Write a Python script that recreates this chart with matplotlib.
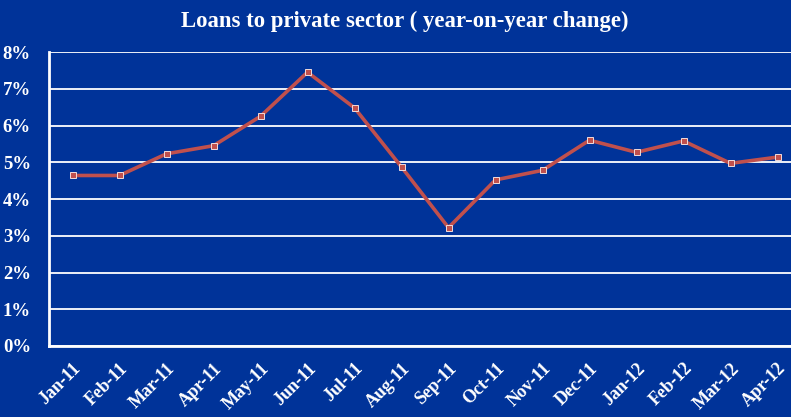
import matplotlib
matplotlib.use("Agg")
import matplotlib.pyplot as plt
from matplotlib.ticker import FuncFormatter

months = ["Jan-11", "Feb-11", "Mar-11", "Apr-11", "May-11", "Jun-11", "Jul-11", "Aug-11",
          "Sep-11", "Oct-11", "Nov-11", "Dec-11", "Jan-12", "Feb-12", "Mar-12", "Apr-12"]
loan_growth = [4.64, 4.64, 5.23, 5.45, 6.25, 7.45, 6.48, 4.87,
               3.22, 4.52, 4.78, 5.60, 5.27, 5.58, 4.97, 5.14]
y_ticks = [0, 1, 2, 3, 4, 5, 6, 7, 8]

bg = "#003399"
line_color = "#C0504D"

plt.rcParams["font.family"] = ["Liberation Serif", "DejaVu Serif"]

fig = plt.figure(figsize=(7.91, 4.17), dpi=100, facecolor=bg)
ax = fig.add_axes([49 / 791, 71 / 417, 752 / 791, 294 / 417])
ax.set_facecolor(bg)

x = list(range(len(months)))
ax.plot(x, loan_growth, color=line_color, linewidth=2.6, marker="s", markersize=4,
        markerfacecolor=line_color, markeredgecolor="#F2DCDB", markeredgewidth=0.7,
        zorder=3)

ax.set_xlim(-0.5, len(months) - 0.5)
ax.set_ylim(0, 8)
ax.set_yticks(y_ticks)
ax.yaxis.set_major_formatter(FuncFormatter(lambda v, _: f"{v:.0f}%"))
ax.grid(axis="y", color="white", linewidth=1.3, zorder=1)
ax.set_xticks(x)
ax.set_xticklabels(months, rotation=45, ha="right", rotation_mode="anchor")

for side in ("top", "right"):
    ax.spines[side].set_visible(False)
for side in ("left", "bottom"):
    ax.spines[side].set_color("white")
    ax.spines[side].set_linewidth(2)

ax.tick_params(axis="both", length=0, colors="white")
ax.tick_params(axis="y", pad=13, labelsize=13.5)
ax.tick_params(axis="x", pad=10, labelsize=13)
for lab in ax.get_xticklabels() + ax.get_yticklabels():
    lab.set_fontweight("bold")

fig.text(0.512, 0.948, "Loans to private sector ( year-on-year change)", color="white",
         fontsize=16.4, fontweight="bold", ha="center", va="center")

fig.savefig("out.png", dpi=100, facecolor=bg)
